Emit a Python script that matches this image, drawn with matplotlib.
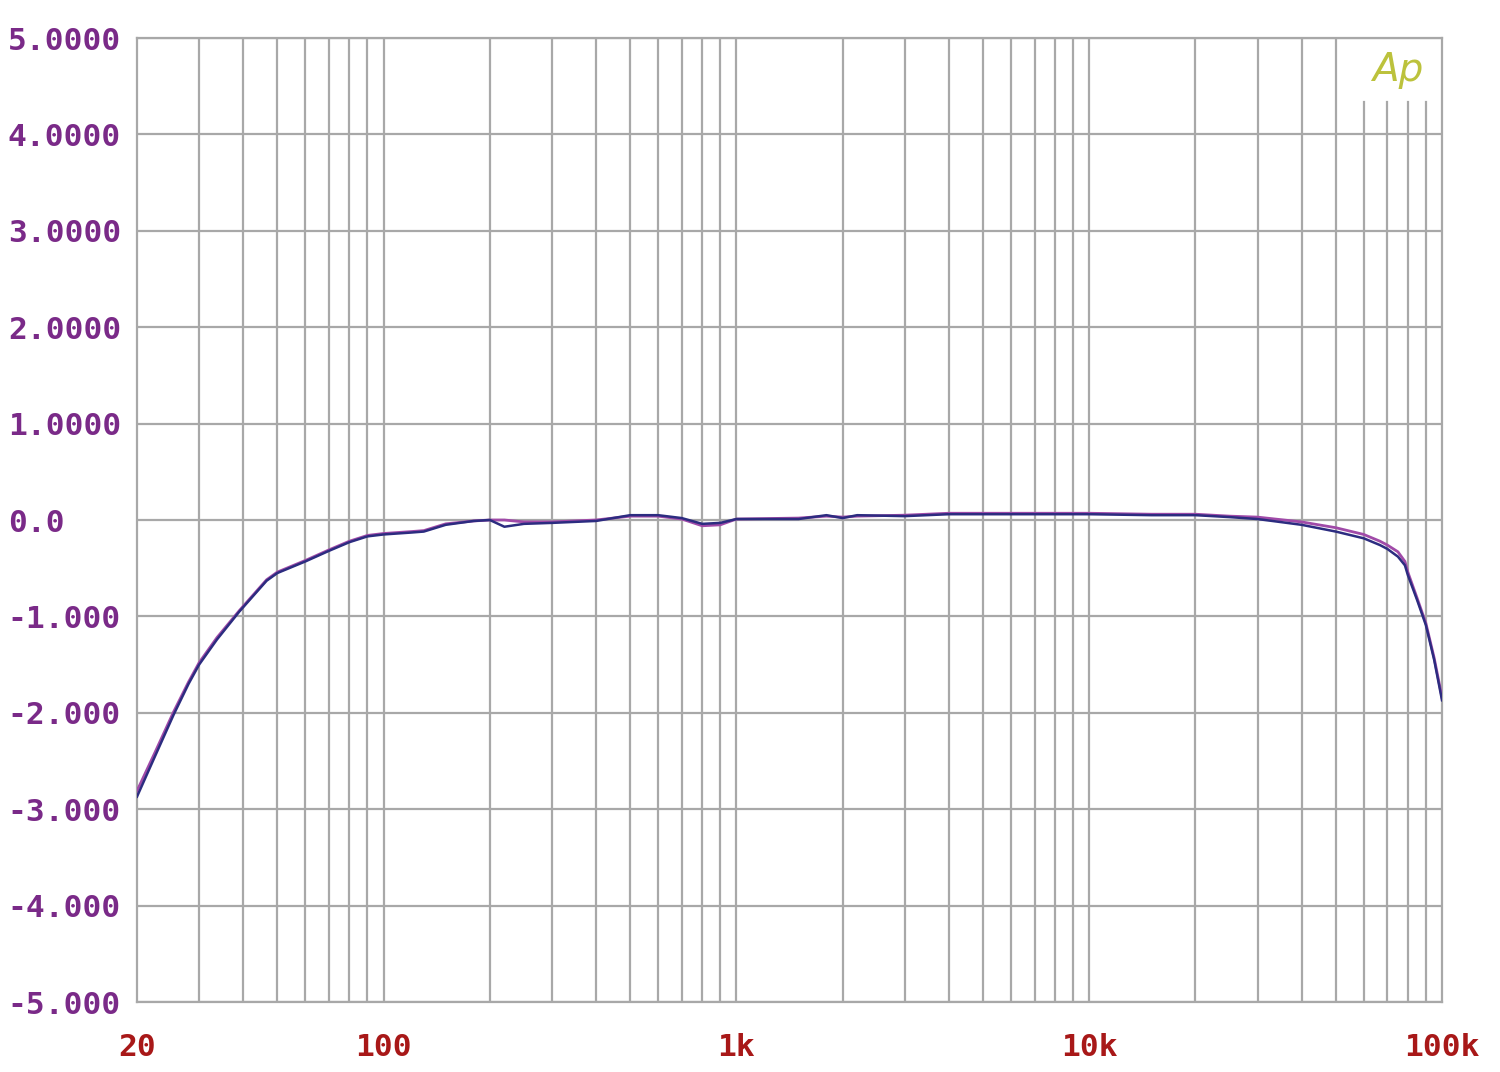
import matplotlib
matplotlib.use("Agg")
from matplotlib import pyplot as plt

# frequency response, two channels (dB)
freq = [20, 22.5, 25.4, 28, 30, 33.7, 39, 46.6, 50, 60, 70, 80, 90, 100, 120,
        130, 150, 180, 200, 220, 250, 300, 400, 500, 600, 700, 800, 900, 1000,
        1500, 1800, 2000, 2200, 3000, 4000, 6000, 10000, 15000, 20000,
        25000, 30000, 40000, 50000, 60000, 66700, 70000, 75000, 78500, 80000,
        85000, 90000, 95000, 100000]
left = [-2.87, -2.45, -2.02, -1.70, -1.50, -1.24, -0.95, -0.63, -0.55, -0.43,
        -0.32, -0.23, -0.17, -0.15, -0.13, -0.12, -0.05, -0.01, 0.0, -0.07,
        -0.04, -0.03, -0.01, 0.05, 0.05, 0.02, -0.04, -0.03, 0.01,
        0.01, 0.05, 0.02, 0.05, 0.04, 0.06, 0.06, 0.06, 0.05, 0.05,
        0.03, 0.01, -0.05, -0.12, -0.19, -0.26, -0.30, -0.38, -0.47, -0.57,
        -0.83, -1.09, -1.45, -1.87]
right = [-2.81, -2.41, -1.99, -1.68, -1.48, -1.22, -0.94, -0.62, -0.54, -0.42,
         -0.31, -0.22, -0.16, -0.14, -0.12, -0.11, -0.04, -0.01, 0.0, 0.0,
         -0.02, -0.02, 0.0, 0.04, 0.04, 0.01, -0.06, -0.05, 0.01,
         0.02, 0.04, 0.03, 0.04, 0.05, 0.07, 0.07, 0.07, 0.06, 0.06,
         0.04, 0.03, -0.02, -0.08, -0.15, -0.22, -0.26, -0.33, -0.43, -0.54,
         -0.81, -1.07, -1.43, -1.84]

yticks = [5, 4, 3, 2, 1, 0, -1, -2, -3, -4, -5]
ylabels = ["5.0000", "4.0000", "3.0000", "2.0000", "1.0000", "0.0",
           "-1.000", "-2.000", "-3.000", "-4.000", "-5.000"]
xticks = [20, 100, 1000, 10000, 100000]
xlabels = ["20", "100", "1k", "10k", "100k"]

grid_col = "#a8a8a8"
fig = plt.figure(figsize=(15, 10.72), dpi=100)
ax = fig.add_axes([137 / 1500, 70 / 1072, 1305 / 1500, 964 / 1072])
ax.set_xscale("log")
ax.set_xlim(20, 100000)
ax.set_ylim(-5, 5)

# vertical grid lines (those under the logo stop short)
for dec in [10, 100, 1000, 10000]:
    for m in range(1, 10):
        f = dec * m
        if f <= 20 or f >= 100000:
            continue
        top = (1002 - 102) / 964 if f >= 60000 else 1
        ax.axvline(f, ymin=0, ymax=top, color=grid_col, lw=1.6, zorder=1)
for y in yticks:
    ax.axhline(y, color=grid_col, lw=1.6, zorder=1)

ax.plot(freq, right, color="#a04aa8", lw=2.0, zorder=3)
ax.plot(freq, left, color="#2c2c80", lw=1.8, zorder=4)

for s in ax.spines.values():
    s.set_color(grid_col)
    s.set_linewidth(1.6)

ax.minorticks_off()
ax.tick_params(length=0)
ax.set_yticks(yticks)
ax.set_yticklabels(ylabels, fontfamily="DejaVu Sans Mono", fontweight="bold",
                   fontsize=22.5, color="#7a2a88", ha="left")
ax.tick_params(axis="y", pad=93)
ax.set_xticks(xticks)
ax.set_xticklabels(xlabels, fontfamily="DejaVu Sans Mono", fontweight="bold",
                   fontsize=22.5, color="#a81818")
ax.tick_params(axis="x", pad=22)

ax.text(1398 / 1500, 1 - 70 / 1072, "Ap", transform=fig.transFigure,
        fontsize=28, style="italic", color="#bcc23c", ha="center", va="center")

fig.savefig("out.png", dpi=100, facecolor="white")
